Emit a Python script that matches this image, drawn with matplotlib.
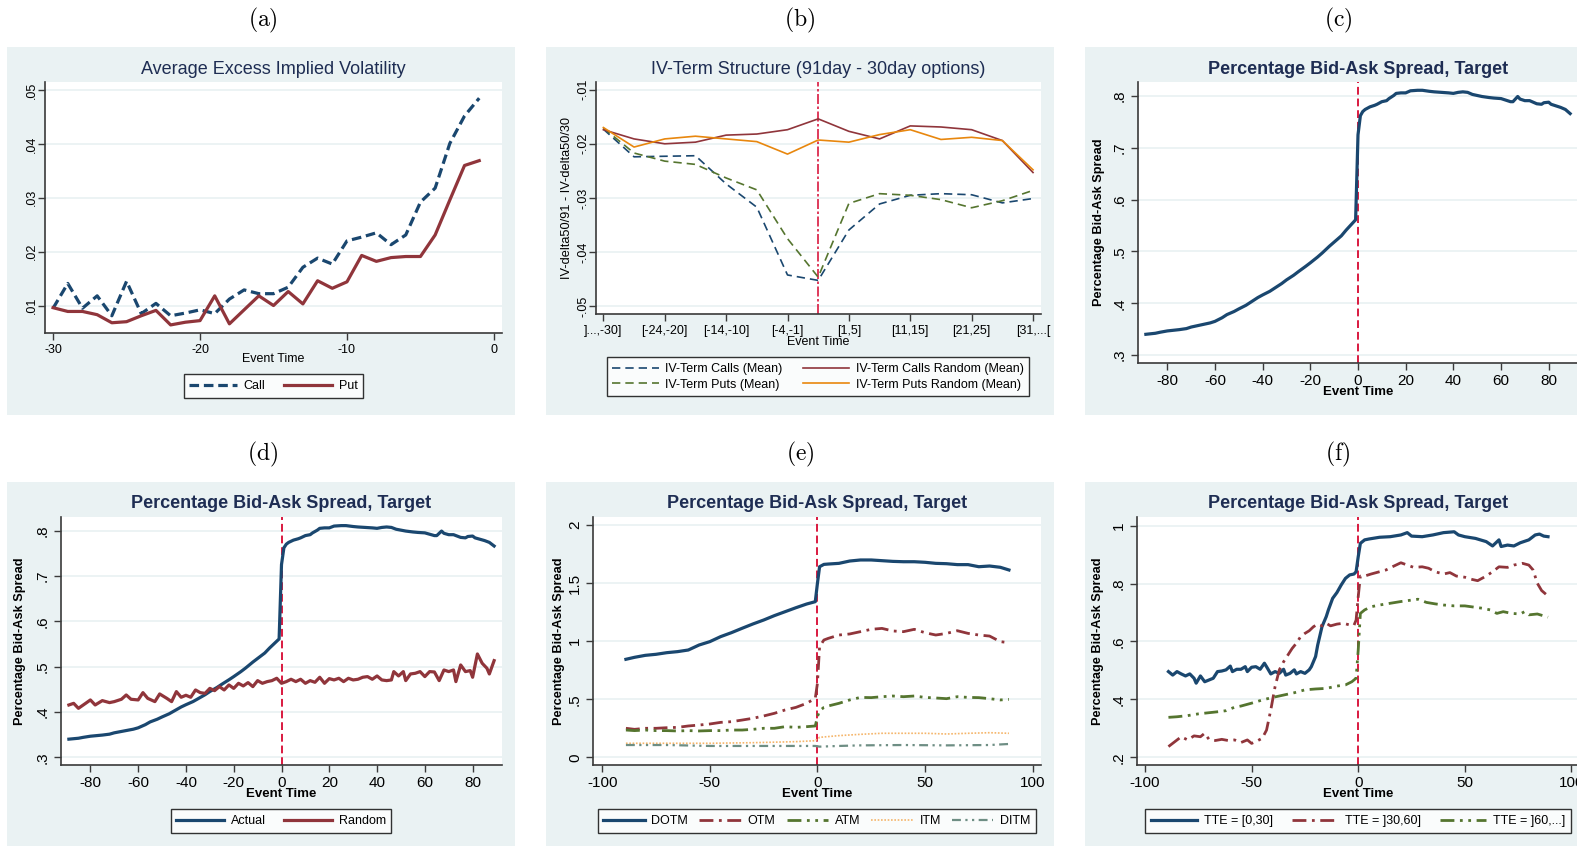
import numpy as np
import matplotlib.pyplot as plt
from matplotlib.patches import Rectangle

plt.rcParams['font.family'] = ['Liberation Sans', 'DejaVu Sans']
plt.rcParams['mathtext.fontset'] = 'cm'

# ---------------- data ----------------
# (a) average excess implied volatility
a_t = list(range(-30, 0))
a_call = [0.0095, 0.0141, 0.0095, 0.0118, 0.0081, 0.0145, 0.0085, 0.0104, 0.0081, 0.0086,
          0.0092, 0.0085, 0.0112, 0.0129, 0.0122, 0.0122, 0.0134, 0.0171, 0.0188, 0.0177,
          0.0220, 0.0227, 0.0235, 0.0213, 0.0231, 0.0292, 0.0318, 0.0401, 0.0452, 0.0485]
a_put = [0.0096, 0.0089, 0.0089, 0.0083, 0.0068, 0.0070, 0.0081, 0.0091, 0.0064, 0.0069,
         0.0072, 0.0118, 0.0066, 0.0092, 0.0118, 0.0100, 0.0126, 0.0103, 0.0146, 0.0132,
         0.0144, 0.0193, 0.0182, 0.0189, 0.0191, 0.0191, 0.0231, 0.0296, 0.0360, 0.0369]

# (b) IV term structure, 15 event-time buckets
b_pos = list(range(1, 16))
b_ticklabels = [']...,-30]', '[-24,-20]', '[-14,-10]', '[-4,-1]', '[1,5]', '[11,15]', '[21,25]', '[31,...[']
b_calls = [-0.0173, -0.0224, -0.0223, -0.0222, -0.0274, -0.0317, -0.0442, -0.0452, -0.0359,
           -0.0311, -0.0295, -0.0292, -0.0294, -0.0309, -0.0301]
b_puts = [-0.0171, -0.0217, -0.0232, -0.0238, -0.0263, -0.0285, -0.0375, -0.0446, -0.0310,
          -0.0292, -0.0295, -0.0303, -0.0318, -0.0305, -0.0286]
b_calls_rnd = [-0.0174, -0.0191, -0.0200, -0.0197, -0.0184, -0.0182, -0.0174, -0.0154, -0.0177,
               -0.0191, -0.0167, -0.0169, -0.0174, -0.0194, -0.0253]
b_puts_rnd = [-0.0170, -0.0206, -0.0191, -0.0186, -0.0191, -0.0196, -0.0219, -0.0193, -0.0197,
              -0.0183, -0.0174, -0.0192, -0.0188, -0.0194, -0.0248]

# (c)/(d) percentage bid-ask spread, actual targets
act_t = [-89, -87, -85, -83, -80, -77, -75, -72, -70, -67, -65, -62, -60, -57, -55, -52, -50, -47,
         -45, -42, -40, -37, -35, -32, -30, -27, -25, -22, -20, -17, -15, -12, -10, -7, -5, -3, -1,
         0, 1, 2, 3, 5, 7, 8, 10, 12, 13, 15, 16, 18, 20, 22, 25, 27, 30, 32, 35, 38, 40, 42, 44,
         46, 48, 50, 52, 55, 57, 60, 62, 64, 65, 67, 68, 70, 72, 75, 77, 78, 80, 81, 83, 85, 87, 89]
act_v = [.340, .341, .342, .344, .3465, .348, .349, .351, .354, .357, .359, .362, .365, .372, .378,
         .384, .389, .396, .402, .411, .416, .423, .429, .438, .445, .454, .461, .471, .478, .489,
         .497, .510, .518, .530, .541, .551, .561,
         .725, .762, .770, .774, .779, .782, .784, .789, .791, .795, .801, .805, .806, .806, .810,
         .811, .811, .809, .808, .807, .806, .805, .807, .808, .807, .803, .801, .799, .797, .796,
         .795, .792, .789, .789, .799, .794, .791, .791, .785, .784, .787, .788, .784, .781, .778,
         .774, .766]

# (d) random sample
rnd_t = [-89, -87, -85, -82, -80, -78, -75, -72, -70, -67, -65, -63, -60, -58, -56, -53, -51, -48,
         -46, -44, -42, -40, -38, -36, -34, -32, -30, -28, -26, -24, -22, -20, -18, -16, -14, -12,
         -10, -8, -6, -4, -2, 0, 2, 4, 6, 8, 10, 12, 14, 16, 18, 20, 22, 24, 26, 28, 30, 32, 34,
         36, 38, 40, 42, 44, 46, 47, 49, 51, 52, 54, 56, 58, 60, 62, 64, 66, 68, 70, 72, 73, 75,
         77, 79, 80, 82, 84, 86, 87, 89]
rnd_v = [.4154, .419, .408, .419, .4265, .4154, .425, .4206, .4228, .428, .4375, .428, .4265, .4426,
         .430, .4228, .4397, .430, .4228, .4449, .4324, .4368, .4324, .4485, .4426, .441, .452,
         .447, .4559, .4485, .4596, .452, .4632, .4574, .4647, .4559, .4691, .4632, .4669, .4691,
         .4743, .4632, .4669, .4721, .4669, .4721, .4632, .4691, .4654, .4765, .4632, .4735, .4706,
         .4743, .4669, .4743, .4706, .4721, .4765, .478, .4721, .4794, .4706, .4691, .4706, .489,
         .4794, .489, .4691, .4838, .4853, .489, .478, .489, .4882, .4691, .4926, .489, .4926,
         .4669, .5037, .489, .4912, .4765, .5279, .5074, .4963, .4838, .5132]

# (e) by moneyness
e_t = [-89, -85, -80, -75, -70, -65, -60, -55, -50, -45, -40, -35, -30, -25, -20, -15, -10, -5, -1,
       0, 1, 3, 5, 10, 15, 20, 25, 30, 35, 40, 45, 50, 55, 60, 65, 70, 75, 80, 85, 89]
e_dotm = [.844, .861, .878, .887, .901, .910, .924, .967, .996, 1.039, 1.073, 1.111, 1.148, 1.182,
          1.220, 1.254, 1.288, 1.320, 1.340, 1.498, 1.641, 1.661, 1.664, 1.670, 1.690, 1.699,
          1.699, 1.693, 1.687, 1.684, 1.684, 1.679, 1.670, 1.667, 1.659, 1.659, 1.641, 1.647,
          1.636, 1.613]
e_otm = [.250, .241, .250, .250, .255, .258, .270, .278, .287, .301, .307, .321, .336, .356, .379,
         .408, .430, .465, .508, .637, .953, 1.010, 1.024, 1.053, 1.062, 1.082, 1.102, 1.110,
         1.088, 1.082, 1.102, 1.073, 1.053, 1.067, 1.090, 1.067, 1.053, 1.044, .996, .987]
e_atm = [.235, .230, .235, .230, .230, .227, .230, .227, .230, .230, .235, .235, .241, .250, .250,
         .264, .258, .264, .270, .350, .400, .430, .442, .465, .494, .516, .514, .522, .528, .522,
         .528, .516, .511, .505, .522, .516, .514, .505, .494, .499]
e_itm_t = [-89, -70, -50, -30, -10, -1, 1, 10, 20, 30, 50, 60, 70, 80, 89]
e_itm = [.121, .121, .121, .126, .135, .143, .172, .187, .198, .207, .207, .201, .207, .212, .207]
e_ditm_t = [-89, -70, -50, -30, -10, -1, 1, 10, 20, 40, 60, 80, 89]
e_ditm = [.106, .106, .098, .098, .098, .098, .092, .098, .103, .106, .103, .106, .115]

# (f) by time to expiration
f1_t = [-89, -87, -85, -83, -81, -79, -77, -76, -74, -72, -70, -68, -66, -64, -62, -60, -59, -57,
        -55, -53, -52, -50, -48, -46, -44, -43, -41, -39, -37, -35, -34, -32, -30, -29, -27, -25,
        -23, -22, -20, -19, -17, -15, -14, -12, -10, -8, -6, -4, -2, -1, 0, 1, 3, 5, 10, 15, 20,
        23, 25, 30, 35, 40, 45, 47, 50, 55, 60, 63, 66, 67, 70, 73, 76, 80, 83, 85, 87, 89]
f1_v = [.496, .484, .496, .488, .481, .488, .473, .456, .481, .461, .467, .473, .496, .498, .502,
        .515, .496, .504, .504, .513, .496, .511, .513, .504, .525, .513, .488, .496, .490, .504,
        .484, .490, .502, .488, .496, .490, .502, .513, .548, .588, .651, .686, .709, .749, .769,
        .795, .818, .830, .833, .841, .893, .939, .951, .954, .960, .962, .968, .976, .964, .962,
        .968, .976, .979, .968, .962, .956, .945, .930, .951, .928, .933, .930, .941, .951, .968,
        .971, .964, .962]
f2_t = [-89, -86, -83, -80, -77, -74, -72, -70, -67, -64, -61, -58, -55, -52, -50, -47, -45, -43,
        -41, -39, -37, -35, -33, -31, -29, -27, -25, -23, -21, -19, -17, -15, -13, -10, -7, -4,
        -2, -1, 0, 1, 3, 6, 10, 13, 16, 20, 23, 26, 30, 33, 36, 40, 43, 46, 50, 53, 56, 60, 63,
        66, 70, 73, 77, 80, 82, 84, 86, 89]
f2_v = [.237, .254, .271, .260, .274, .271, .283, .262, .258, .262, .258, .260, .251, .260, .248,
        .258, .266, .294, .364, .444, .502, .530, .553, .576, .594, .617, .628, .637, .651, .660,
        .654, .663, .654, .660, .663, .657, .656, .674, .755, .826, .826, .833, .841, .847, .858,
        .872, .864, .856, .858, .853, .841, .833, .838, .826, .822, .815, .810, .826, .841, .858,
        .856, .864, .870, .864, .847, .801, .776, .757]
f3_t = [-89, -85, -80, -75, -70, -65, -62, -58, -55, -50, -45, -40, -35, -30, -25, -20, -15, -10,
        -6, -3, -1, 0, 1, 3, 6, 10, 15, 20, 25, 28, 32, 36, 40, 45, 50, 55, 58, 62, 65, 68, 72,
        76, 78, 80, 84, 89]
f3_v = [.338, .340, .344, .350, .354, .358, .361, .373, .377, .387, .398, .407, .415, .423, .433,
        .436, .438, .446, .450, .461, .473, .571, .697, .709, .720, .726, .732, .738, .743, .746,
        .735, .730, .726, .723, .723, .718, .715, .709, .697, .703, .697, .695, .703, .692, .695,
        .684]

# ---------------- figure ----------------
W, H = 1577, 846
BG = '#eaf2f3'
NAVY = '#1a476f'
MAROON = '#90353b'
GREEN = '#55752f'
ORANGE = '#e8870e'
TEAL = '#6e8e84'
VRED = '#d9193f'
TITLE = '#1e2d53'
AX = '#3a3a3a'

fig = plt.figure(figsize=(W / 100, H / 100), dpi=100)


def fy(y):
    return 1 - y / H


def add_ax(x0, y0, x1, y1):
    return fig.add_axes([x0 / W, 1 - y1 / H, (x1 - x0) / W, (y1 - y0) / H])


def setup(ax, xlim, ylim, xt, xtl, yt, ytl, fs, ypad=3):
    ax.set_xlim(xlim)
    ax.set_ylim(ylim)
    ax.set_xticks(xt)
    ax.set_xticklabels(xtl)
    ax.set_yticks(yt)
    ax.set_yticklabels(ytl, rotation=90, va='center')
    for s in ['top', 'right']:
        ax.spines[s].set_visible(False)
    for s in ['left', 'bottom']:
        ax.spines[s].set_color(AX)
        ax.spines[s].set_linewidth(1.2)
    ax.tick_params(length=5, width=1, color=AX, labelsize=fs, pad=3)
    ax.tick_params(axis='y', pad=ypad)
    ax.grid(axis='y', color=BG, lw=1.3)
    ax.set_axisbelow(True)


def legend(handles, labels, cx, cy, ncol, hl=3.8, cs=1.5):
    lg = fig.legend(handles, labels, loc='center', bbox_to_anchor=(cx / W, fy(cy)), ncol=ncol,
                    fontsize=9, frameon=True, fancybox=False, edgecolor='black',
                    handlelength=hl, columnspacing=cs, borderpad=0.45, handletextpad=0.55,
                    labelspacing=0.3, borderaxespad=0)
    lg.get_frame().set_linewidth(1.0)


# panel backgrounds
for x0, y0, x1, y1 in [(7, 47, 515, 415), (546, 47, 1054, 415), (1085, 47, 1600, 415),
                       (7, 482, 515, 850), (546, 482, 1054, 850), (1085, 482, 1600, 850)]:
    fig.add_artist(Rectangle((x0 / W, fy(y1)), (x1 - x0) / W, (y1 - y0) / H,
                             transform=fig.transFigure, facecolor=BG, edgecolor='none', zorder=-5))

# panel letters
for lab, x, y in [('a', 263, 20), ('b', 800, 20), ('c', 1338, 20),
                  ('d', 263, 454), ('e', 800, 454), ('f', 1338, 454)]:
    fig.text(x / W, fy(y), r'$\mathrm{(' + lab + ')}$', ha='center', va='center', fontsize=17)

# ---- (a)
ax = add_ax(45, 82, 502, 333)
l1, = ax.plot(a_t, a_call, color=NAVY, lw=2.3, ls=(0, (3, 1.5)))
l2, = ax.plot(a_t, a_put, color=MAROON, lw=2.3)
setup(ax, (-30.55, 0.55), (0.0049, 0.0515), [-30, -20, -10, 0], ['-30', '-20', '-10', '0'],
      [0.01, 0.02, 0.03, 0.04, 0.05], ['.01', '.02', '.03', '.04', '.05'], 9, ypad=0)
fig.text(273.5 / W, fy(69), 'Average Excess Implied Volatility', ha='center', va='center',
         fontsize=13, color=TITLE)
fig.text(273.5 / W, fy(359), 'Event Time', ha='center', va='center', fontsize=9)
legend([l1, l2], ['Call', 'Put'], 273.5, 386, 2)

# ---- (b)
ax = add_ax(596, 82, 1041, 314)
ax.axvline(8, color=VRED, lw=1.2, ls=(0, (6, 1.5, 1.5, 1.5)))
l1, = ax.plot(b_pos, b_calls, color=NAVY, lw=1.2, ls=(0, (5, 3)))
l2, = ax.plot(b_pos, b_puts, color=GREEN, lw=1.2, ls=(0, (5, 3)))
l3, = ax.plot(b_pos, b_calls_rnd, color=MAROON, lw=1.2)
l4, = ax.plot(b_pos, b_puts_rnd, color=ORANGE, lw=1.2)
setup(ax, (0.76, 15.26), (-0.0514, -0.0086), list(range(1, 16, 2)), b_ticklabels,
      [-0.05, -0.04, -0.03, -0.02, -0.01], ['-.05', '-.04', '-.03', '-.02', '-.01'], 9, ypad=0)
fig.text(818 / W, fy(69), 'IV-Term Structure (91day - 30day options)', ha='center', va='center',
         fontsize=13, color=TITLE)
fig.text(818 / W, fy(342), 'Event Time', ha='center', va='center', fontsize=9)
fig.text(567 / W, fy(198), 'IV-delta50/91 - IV-delta50/30', ha='center', va='center',
         fontsize=9.2, rotation=90)
legend([l1, l2, l3, l4], ['IV-Term Calls (Mean)', 'IV-Term Puts (Mean)',
                          'IV-Term Calls Random (Mean)', 'IV-Term Puts Random (Mean)'],
       818, 377, 2, hl=3.7, cs=1.6)

spread_ticks = [0.3, 0.4, 0.5, 0.6, 0.7, 0.8]
spread_labels = ['.3', '.4', '.5', '.6', '.7', '.8']
ev_ticks = list(range(-80, 81, 20))
ev_labels = [str(v) for v in ev_ticks]

# ---- (c)
ax = add_ax(1138, 82, 1578, 363)
ax.axvline(0, color=VRED, lw=1.4, ls=(0, (4, 2)))
ax.plot(act_t, act_v, color=NAVY, lw=2.3)
setup(ax, (-92.3, 92.3), (0.2846, 0.827), ev_ticks, ev_labels, spread_ticks, spread_labels, 11)
fig.text(1358 / W, fy(69), 'Percentage Bid-Ask Spread, Target', ha='center', va='center',
         fontsize=13, color=TITLE, fontweight='bold')
fig.text(1358 / W, fy(392), 'Event Time', ha='center', va='center', fontsize=9.5, fontweight='bold')
fig.text(1099 / W, fy(222), 'Percentage Bid-Ask Spread', ha='center', va='center',
         fontsize=9.2, rotation=90, fontweight='bold')

# ---- (d)
ax = add_ax(61, 517, 502, 765)
ax.axvline(0, color=VRED, lw=1.4, ls=(0, (4, 2)))
l1, = ax.plot(act_t, act_v, color=NAVY, lw=2.3)
l2, = ax.plot(rnd_t, rnd_v, color=MAROON, lw=2.3)
setup(ax, (-92.3, 92.3), (0.283, 0.830), ev_ticks, ev_labels, spread_ticks, spread_labels, 11)
fig.text(281.5 / W, fy(504), 'Percentage Bid-Ask Spread, Target', ha='center', va='center',
         fontsize=13, color=TITLE, fontweight='bold')
fig.text(281.5 / W, fy(794), 'Event Time', ha='center', va='center', fontsize=9.5, fontweight='bold')
fig.text(20 / W, fy(641), 'Percentage Bid-Ask Spread', ha='center', va='center',
         fontsize=9.2, rotation=90, fontweight='bold')
legend([l1, l2], ['Actual', 'Random'], 281, 821, 2)

wide_ticks = [-100, -50, 0, 50, 100]
wide_labels = [str(v) for v in wide_ticks]

# ---- (e)
ax = add_ax(593, 517, 1041, 765)
ax.axvline(0, color=VRED, lw=1.4, ls=(0, (4, 2)))
l1, = ax.plot(e_t, e_dotm, color=NAVY, lw=2.3)
l2, = ax.plot(e_t, e_otm, color=MAROON, lw=2.0, ls=(0, (5, 2, 1, 2)))
l3, = ax.plot(e_t, e_atm, color=GREEN, lw=2.0, ls=(0, (5, 2, 1, 2, 1, 2)))
l4, = ax.plot(e_itm_t, e_itm, color='#f5b56a', lw=1.2, ls=(0, (1, 1)))
l5, = ax.plot(e_ditm_t, e_ditm, color=TEAL, lw=1.6, ls=(0, (4, 2, 1, 2, 1, 2)))
setup(ax, (-104.3, 103.9), (-0.066, 2.069), wide_ticks, wide_labels,
      [0, 0.5, 1, 1.5, 2], ['0', '.5', '1', '1.5', '2'], 11)
fig.text(817 / W, fy(504), 'Percentage Bid-Ask Spread, Target', ha='center', va='center',
         fontsize=13, color=TITLE, fontweight='bold')
fig.text(817 / W, fy(794), 'Event Time', ha='center', va='center', fontsize=9.5, fontweight='bold')
fig.text(559 / W, fy(641), 'Percentage Bid-Ask Spread', ha='center', va='center',
         fontsize=9.2, rotation=90, fontweight='bold')
legend([l1, l2, l3, l4, l5], ['DOTM', 'OTM', 'ATM', 'ITM', 'DITM'], 817, 821, 5, hl=3.3, cs=0.9)

# ---- (f)
ax = add_ax(1137, 517, 1580, 765)
ax.axvline(0, color=VRED, lw=1.4, ls=(0, (4, 2)))
l1, = ax.plot(f1_t, f1_v, color=NAVY, lw=2.3)
l2, = ax.plot(f2_t, f2_v, color=MAROON, lw=2.0, ls=(0, (5, 2, 1, 2)))
l3, = ax.plot(f3_t, f3_v, color=GREEN, lw=2.0, ls=(0, (5, 2, 1, 2, 1, 2)))
setup(ax, (-103.75, 104.0), (0.1734, 1.030), wide_ticks, wide_labels,
      [0.2, 0.4, 0.6, 0.8, 1.0], ['.2', '.4', '.6', '.8', '1'], 11)
fig.text(1358 / W, fy(504), 'Percentage Bid-Ask Spread, Target', ha='center', va='center',
         fontsize=13, color=TITLE, fontweight='bold')
fig.text(1358 / W, fy(794), 'Event Time', ha='center', va='center', fontsize=9.5, fontweight='bold')
fig.text(1098 / W, fy(641), 'Percentage Bid-Ask Spread', ha='center', va='center',
         fontsize=9.2, rotation=90, fontweight='bold')
legend([l1, l2, l3], ['TTE = [0,30]', 'TTE = ]30,60]', 'TTE = ]60,...]'], 1358, 821, 3,
       hl=3.7, cs=1.5)

fig.savefig('out.png', dpi=100)
